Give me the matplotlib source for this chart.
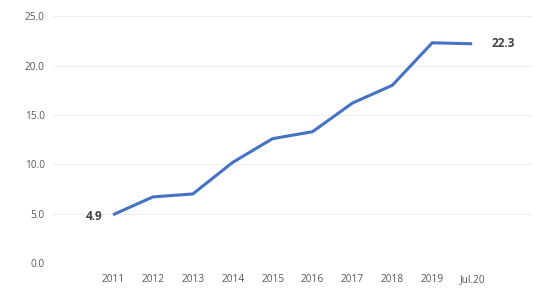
import matplotlib
matplotlib.use("Agg")
import matplotlib.pyplot as plt

# category slots: blank slot at both ends, as in the original
categories = ["", "2011", "2012", "2013", "2014", "2015", "2016", "2017",
              "2018", "2019", "Jul.20", ""]
values = [4.9, 6.7, 7.0, 10.2, 12.6, 13.3, 16.2, 18.0, 22.3, 22.2]
yticks = [0, 5, 10, 15, 20, 25]
end_labels = ["4.9", "22.3"]

plt.rcParams["font.family"] = ["Open Sans", "DejaVu Sans"]

fig = plt.figure(figsize=(5.6, 2.93), dpi=100)
ax = fig.add_axes([0.095, 0.102, 0.855, 0.843])

x = list(range(1, len(values) + 1))
ax.plot(x, values, color="#4472C4", linewidth=2.2, solid_capstyle="butt")

ax.set_xlim(-0.5, len(categories) - 0.5)
ax.set_ylim(0, 25)
ax.set_xticks(range(len(categories)))
ax.set_xticklabels(categories)
ax.set_yticks(yticks)
ax.set_yticklabels([f"{v:.1f}" for v in yticks])

ax.tick_params(axis="both", length=0, labelsize=7.3, colors="#595959")
ax.tick_params(axis="x", pad=8)
ax.tick_params(axis="y", pad=6)
for s in ax.spines.values():
    s.set_visible(False)
ax.grid(axis="y", color="#EFEFEF", linewidth=0.8)
ax.set_axisbelow(True)

ax.annotate(end_labels[0], (x[0], values[0]), xytext=(-8, -1),
            textcoords="offset points", ha="right", va="center",
            fontsize=8.5, fontweight="bold", color="#404040")
ax.annotate(end_labels[1], (x[-1], values[-1]), xytext=(14, 0),
            textcoords="offset points", ha="left", va="center",
            fontsize=8.5, fontweight="bold", color="#404040")

fig.savefig("out.png", dpi=100, facecolor="white")
